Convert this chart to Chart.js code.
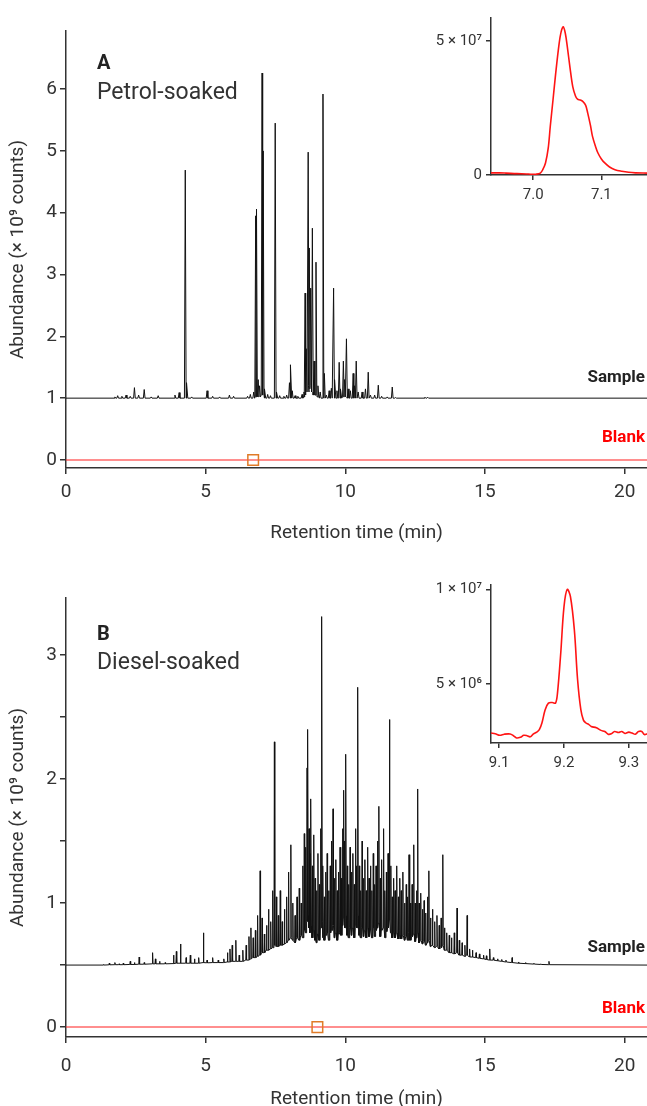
<!DOCTYPE html>
<html>
<head>
<meta charset="utf-8">
<title>GC-MS chromatograms</title>
<script src="https://cdn.jsdelivr.net/npm/chart.js@4.4.1/dist/chart.umd.min.js"></script>
<style>
  html, body { margin: 0; padding: 0; background: #fff; overflow: hidden; }
  body { position: relative; width: 647px; height: 1106px; font-family: Roboto, "Liberation Sans", sans-serif; color: #333; }
  canvas { position: absolute; }
  .note { position: absolute; white-space: nowrap; line-height: 1; }
  .letter { left: 97px; font-size: 20px; font-weight: 700; color: #222; }
  .caption { left: 97px; font-size: 23px; color: #333; }
  .tag { right: 2px; font-size: 17px; font-weight: 700; }
  .sample { color: #222; }
  .blank { color: #ff0000; }
</style>
</head>
<body>
<canvas id="mainA" width="656" height="549" style="left:0;top:0"></canvas>
<canvas id="insetA" width="247" height="215" style="left:400px;top:0"></canvas>
<canvas id="mainB" width="656" height="555" style="left:0;top:560px"></canvas>
<canvas id="insetB" width="247" height="220" style="left:400px;top:560px"></canvas>

<div class="note letter" style="top:52px">A</div>
<div class="note caption" style="top:80px">Petrol-soaked</div>
<div class="note tag sample" style="top:368px">Sample</div>
<div class="note tag blank" style="top:428px">Blank</div>

<div class="note letter" style="top:623px">B</div>
<div class="note caption" style="top:650px">Diesel-soaked</div>
<div class="note tag sample" style="top:938px">Sample</div>
<div class="note tag blank" style="top:999px">Blank</div>

<script>
// ====================================================================
// DATA (abundance in 10^9 counts, time in min)
// ====================================================================

const timeRange = [0, 20.8];
const timeTicks = [0, 5, 10, 15, 20];

// --- A: petrol-soaked sample, drawn on a baseline offset of 1 ---
const petrolBaseline = 1.0;
const petrolPeakTimes = [1.75, 1.85, 2.0, 2.15, 2.3, 2.45, 2.6, 2.8, 3.05, 3.3, 3.9, 4.05, 4.27, 4.33, 4.5,
  5.05, 5.25, 5.5, 5.85, 6.0, 6.5, 6.6, 6.72, 6.79, 6.82, 6.88, 6.93, 7.02, 7.06, 7.12, 7.22, 7.32, 7.49, 7.55,
  7.65, 7.8, 7.9, 8.0, 8.05, 8.1, 8.2, 8.3, 8.45, 8.52, 8.56, 8.6, 8.67, 8.71, 8.76, 8.82, 8.88, 8.95, 9.02,
  9.1, 9.2, 9.25, 9.32, 9.42, 9.5, 9.58, 9.63, 9.7, 9.78, 9.84, 9.93, 9.97, 10.04, 10.1, 10.18, 10.28, 10.33,
  10.39, 10.46, 10.6, 10.72, 10.82, 10.9, 11.05, 11.18, 11.3, 11.5, 11.68, 11.8, 12.85, 12.95];
const petrolPeakTops = [1.02, 1.04, 1.03, 1.05, 1.03, 1.17, 1.05, 1.14, 1.02, 1.04, 1.05, 1.09, 4.69, 1.25, 1.02,
  1.12, 1.03, 1.02, 1.05, 1.03, 1.03, 1.06, 1.1, 3.95, 4.06, 1.3, 1.2, 6.26, 5.0, 1.15, 1.06, 1.04, 5.45, 1.1,
  1.04, 1.03, 1.05, 1.25, 1.54, 1.12, 1.04, 1.03, 1.06, 1.1, 2.7, 1.8, 4.98, 3.43, 2.78, 3.75, 1.6, 3.2, 1.2,
  1.1, 5.92, 1.4, 1.05, 1.12, 1.16, 2.78, 1.3, 1.12, 1.58, 1.15, 1.6, 1.3, 1.96, 1.15, 1.12, 1.4, 1.2,
  1.6, 1.1, 1.1, 1.15, 1.42, 1.05, 1.05, 1.21, 1.03, 1.02, 1.18, 1.01, 1.015, 1.015];
const petrolPeakBases = [1.0, 1.0, 1.0, 1.0, 1.0, 1.0, 1.0, 1.0, 1.0, 1.0, 1.0, 1.0, 1.0, 1.0, 1.0,
  1.0, 1.0, 1.0, 1.0, 1.0, 1.0, 1.0, 1.0, 1.02, 1.02, 1.02, 1.02, 1.05, 1.05, 1.0, 1.0, 1.0, 1.0, 1.0,
  1.0, 1.0, 1.0, 1.0, 1.0, 1.0, 1.0, 1.0, 1.0, 1.02, 1.05, 1.1, 1.1, 1.2, 1.15, 1.1, 1.05, 1.05, 1.02,
  1.0, 1.0, 1.0, 1.0, 1.0, 1.0, 1.0, 1.0, 1.0, 1.0, 1.0, 1.02, 1.02, 1.02, 1.0, 1.0, 1.0, 1.0,
  1.0, 1.0, 1.0, 1.0, 1.0, 1.0, 1.0, 1.0, 1.0, 1.0, 1.0, 1.0, 1.0, 1.0];
const petrolAbundanceTicks = [0, 1, 2, 3, 4, 5, 6];
const petrolAbundanceRange = [-0.13, 6.94];
const petrolMarkerTime = 6.7;

// --- B: diesel-soaked sample, drawn on a baseline offset of 0.5 ---
const dieselBaseline = 0.5;
const dieselPeakTimes = [1.35, 1.55, 1.75, 1.9, 2.05, 2.3, 2.45, 2.62, 2.8, 3.1, 3.2, 3.35, 3.55, 3.85, 3.95,
  4.1, 4.3, 4.45, 4.6, 4.75, 4.92, 5.05, 5.25, 5.45, 5.65, 5.78, 5.87, 5.95, 6.08, 6.2, 6.33, 6.45, 6.55, 6.62,
  6.7, 6.78, 6.86, 6.95, 7.02, 7.1, 7.18, 7.25, 7.33, 7.4, 7.46, 7.53, 7.6, 7.67, 7.74, 7.82, 7.9, 7.97, 8.05,
  8.12, 8.2, 8.27, 8.35, 8.42, 8.48, 8.53, 8.58, 8.63, 8.66, 8.7, 8.74, 8.77, 8.82, 8.87, 8.92, 8.97, 9.02,
  9.07, 9.12, 9.16, 9.2, 9.25, 9.3, 9.35, 9.41, 9.46, 9.51, 9.56, 9.61, 9.66, 9.71, 9.76, 9.81, 9.86, 9.9,
  9.94, 9.98, 10.02, 10.07, 10.12, 10.17, 10.22, 10.27, 10.32, 10.37, 10.41, 10.45, 10.5, 10.55, 10.6, 10.65,
  10.7, 10.75, 10.8, 10.85, 10.9, 10.95, 11.0, 11.05, 11.1, 11.15, 11.2, 11.25, 11.3, 11.37, 11.42, 11.47,
  11.53, 11.58, 11.63, 11.68, 11.73, 11.78, 11.84, 11.9, 11.95, 12.0, 12.06, 12.12, 12.18, 12.23, 12.28,
  12.33, 12.39, 12.45, 12.5, 12.55, 12.59, 12.64, 12.7, 12.76, 12.82, 12.88, 12.94, 12.99, 13.05, 13.12,
  13.2, 13.28, 13.36, 13.43, 13.49, 13.55, 13.63, 13.72, 13.8, 13.9, 14.0, 14.08, 14.18, 14.28, 14.36,
  14.45, 14.55, 14.68, 14.8, 14.95, 15.05, 15.17, 15.3, 15.45, 15.6, 15.75, 15.97, 16.2, 16.45, 16.75,
  17.0, 17.29];
const dieselPeakTops = [0.505, 0.515, 0.52, 0.51, 0.515, 0.53, 0.52, 0.565, 0.52, 0.6, 0.55, 0.53, 0.52, 0.58, 0.61,
  0.67, 0.56, 0.58, 0.55, 0.56, 0.76, 0.54, 0.56, 0.54, 0.55, 0.6, 0.63, 0.66, 0.7, 0.58, 0.62, 0.66, 0.73, 0.8,
  0.72, 0.78, 0.9, 1.26, 0.88, 0.75, 0.82, 0.95, 0.85, 1.1, 2.3, 1.05, 0.9, 1.1, 0.85, 0.95, 1.05, 1.25, 1.47,
  1.0, 0.9, 1.05, 1.12, 1.0, 1.3, 1.56, 1.45, 2.09, 2.4, 1.6, 1.4, 1.84, 1.3, 1.55, 1.2, 1.1, 1.4,
  1.15, 1.6, 3.31, 1.3, 1.05, 1.25, 1.4, 1.1, 1.3, 1.5, 1.76, 1.2, 1.35, 1.1, 1.25, 1.45, 1.2, 1.6,
  1.91, 1.5, 2.2, 1.3, 1.15, 1.45, 1.25, 1.4, 1.15, 1.6, 1.3, 2.74, 1.3, 1.1, 1.5, 1.2,
  1.35, 1.1, 1.45, 1.2, 1.3, 1.1, 1.4, 1.15, 1.3, 1.5, 1.78, 1.2, 1.35, 1.6, 1.1, 1.25,
  1.4, 2.48, 1.3, 1.05, 1.2, 1.1, 1.3, 1.05, 1.2, 1.1, 1.25, 1.0, 1.15, 1.05, 1.39,
  1.0, 1.15, 1.47, 1.0, 1.1, 1.92, 1.0, 1.08, 0.95, 1.02, 0.92, 1.05, 1.26, 0.88, 0.95,
  0.85, 0.9, 0.82, 0.88, 1.39, 0.8, 0.76, 0.74, 0.72, 0.76, 0.96, 0.7, 0.68, 0.66, 0.9,
  0.63, 0.62, 0.6, 0.59, 0.58, 0.575, 0.63, 0.56, 0.55, 0.545, 0.54, 0.56, 0.525, 0.52, 0.515,
  0.51, 0.53];
const dieselPeakBases = [0.5, 0.502, 0.503, 0.503, 0.503, 0.505, 0.505, 0.507, 0.507, 0.51, 0.51, 0.51, 0.51, 0.512, 0.515,
  0.515, 0.515, 0.515, 0.515, 0.515, 0.52, 0.518, 0.52, 0.52, 0.52, 0.525, 0.525, 0.53, 0.53, 0.53, 0.53, 0.54, 0.54, 0.55,
  0.56, 0.56, 0.57, 0.58, 0.6, 0.6, 0.62, 0.62, 0.63, 0.64, 0.66, 0.65, 0.65, 0.66, 0.66, 0.67, 0.68, 0.7, 0.72,
  0.7, 0.68, 0.72, 0.7, 0.74, 0.72, 0.78, 0.76, 0.85, 0.9, 0.8, 0.76, 0.82, 0.72, 0.78, 0.7, 0.68, 0.75,
  0.7, 0.8, 0.85, 0.72, 0.7, 0.74, 0.76, 0.7, 0.76, 0.78, 0.82, 0.72, 0.76, 0.7, 0.75, 0.76, 0.74, 0.82,
  0.88, 0.8, 0.9, 0.74, 0.72, 0.8, 0.74, 0.8, 0.72, 0.82, 0.8, 0.9, 0.74, 0.72, 0.8, 0.73,
  0.78, 0.72, 0.8, 0.73, 0.78, 0.72, 0.8, 0.73, 0.78, 0.8, 0.84, 0.73, 0.78, 0.8, 0.72, 0.77,
  0.8, 0.86, 0.76, 0.72, 0.76, 0.72, 0.76, 0.71, 0.74, 0.71, 0.74, 0.7, 0.73, 0.7, 0.76,
  0.7, 0.73, 0.75, 0.69, 0.72, 0.76, 0.68, 0.7, 0.67, 0.69, 0.66, 0.68, 0.7, 0.65, 0.66,
  0.64, 0.65, 0.63, 0.64, 0.66, 0.62, 0.62, 0.6, 0.6, 0.59, 0.6, 0.58, 0.58, 0.57, 0.58,
  0.565, 0.565, 0.56, 0.555, 0.55, 0.545, 0.54, 0.54, 0.535, 0.53, 0.525, 0.52, 0.515, 0.512, 0.508,
  0.505, 0.503];
const dieselAbundanceTicks = [0, 0.5, 1, 1.5, 2, 2.5, 3];
const dieselAbundanceRange = [-0.08, 3.46];
const dieselMarkerTime = 9.0;

// --- blank run (both panels) ---
const blankTimes = [0, 20.8];
const blankValues = [0, 0];

// --- inset A: zoom on the 7.04 min peak (counts) ---
const insetATimes = [6.938, 6.95, 6.96, 6.976, 6.99, 6.996, 7.004, 7.0104, 7.014, 7.018, 7.022, 7.025, 7.029,
  7.033, 7.038, 7.041, 7.044, 7.047, 7.05, 7.054, 7.058, 7.062, 7.065, 7.069, 7.073, 7.077, 7.08, 7.084,
  7.087, 7.091, 7.095, 7.1, 7.105, 7.112, 7.12, 7.13, 7.14, 7.15, 7.167];
const insetAValues = [0.08e7, 0.08e7, 0.07e7, 0.05e7, 0.04e7, 0.03e7, 0.03e7, 0.07e7, 0.2e7, 0.45e7, 1.0e7,
  1.81e7, 2.8e7, 3.8e7, 4.9e7, 5.35e7, 5.53e7, 5.3e7, 4.79e7, 4.0e7, 3.3e7, 2.95e7, 2.83e7, 2.8e7, 2.74e7,
  2.6e7, 2.31e7, 1.85e7, 1.44e7, 1.1e7, 0.82e7, 0.6e7, 0.45e7, 0.3e7, 0.2e7, 0.14e7, 0.1e7, 0.08e7, 0.07e7];
const insetATimeRange = [6.938, 7.167];
const insetATimeTicks = [7.0, 7.1];
const insetATimeLabels = ['7.0', '7.1'];
const insetAValueRange = [0, 5.86e7];
const insetAValueTicks = [0, 5e7];
const insetAValueLabels = ['0', '5 × 10⁷'];

// --- inset B: zoom on the 9.2 min peak (counts) ---
const insetBTimes = [9.0875, 9.094, 9.101, 9.108, 9.117, 9.122, 9.127, 9.133, 9.138, 9.143, 9.148, 9.153,
  9.158, 9.162, 9.166, 9.171, 9.176, 9.182, 9.187, 9.19, 9.195, 9.2, 9.205, 9.21, 9.216, 9.221, 9.226, 9.23,
  9.234, 9.238, 9.242, 9.25, 9.257, 9.263, 9.268, 9.273, 9.278, 9.284, 9.289, 9.294, 9.3, 9.305, 9.31,
  9.315, 9.32, 9.324, 9.328];
const insetBValues = [2.42e6, 2.38e6, 2.30e6, 2.36e6, 2.37e6, 2.28e6, 2.16e6, 2.2e6, 2.3e6, 2.28e6, 2.22e6,
  2.38e6, 2.47e6, 2.6e6, 2.95e6, 3.65e6, 4.0e6, 4.03e6, 4.0e6, 4.53e6, 6.63e6, 9.08e6, 10.0e6, 9.61e6,
  7.86e6, 5.23e6, 3.65e6, 3.1e6, 2.95e6, 2.88e6, 2.77e6, 2.7e6, 2.56e6, 2.5e6, 2.36e6, 2.38e6, 2.5e6,
  2.45e6, 2.5e6, 2.4e6, 2.47e6, 2.42e6, 2.36e6, 2.5e6, 2.5e6, 2.34e6, 2.38e6];
const insetBTimeRange = [9.0875, 9.328];
const insetBTimeTicks = [9.1, 9.2, 9.3];
const insetBTimeLabels = ['9.1', '9.2', '9.3'];
const insetBValueRange = [1.895e6, 1.023e7];
const insetBValueTicks = [5e6, 1e7];
const insetBValueLabels = ['5 × 10⁶', '1 × 10⁷'];

// ====================================================================
// HELPERS
// ====================================================================

const INK = '#333';
const SAMPLE_COLOR = '#111';
const BLANK_COLOR = 'rgba(255, 40, 40, 0.7)';
const INSET_COLOR = 'rgb(255, 20, 20)';
const MARKER_COLOR = '#e07b28';

Chart.defaults.font.family = 'Roboto, "Liberation Sans", sans-serif';
Chart.defaults.color = INK;

// each peak is a thin spike: base -> top -> base
function buildTrace(times, tops, bases, baseline, halfWidth) {
  const pts = [{ x: timeRange[0], y: baseline }];
  times.forEach((t, i) => {
    pts.push({ x: t - halfWidth, y: bases[i] });
    pts.push({ x: t, y: tops[i] });
    pts.push({ x: t + halfWidth, y: bases[i] });
  });
  pts.push({ x: timeRange[1], y: baseline });
  return pts;
}

function zipPoints(xs, ys) {
  return xs.map((x, i) => ({ x: x, y: ys[i] }));
}

function fixedTicks(values) {
  return scale => { scale.ticks = values.map(v => ({ value: v })); };
}

function axisLine(tickLength) {
  return {
    grid: { drawOnChartArea: false, drawTicks: true, tickLength: tickLength, color: INK, lineWidth: 1.5 },
    border: { display: true, color: INK, width: 1.5 }
  };
}

// ====================================================================
// MAIN CHROMATOGRAM
// ====================================================================

function createMainChart(id, cfg) {
  const canvas = document.getElementById(id);
  const ctx = canvas.getContext('2d');

  return new Chart(ctx, {
    type: 'line',
    data: {
      datasets: [
        {
          label: 'Blank',
          data: zipPoints(blankTimes, blankValues),
          borderColor: BLANK_COLOR,
          borderWidth: 1.5,
          pointRadius: 0,
          order: 3
        },
        {
          label: 'Sample',
          data: cfg.trace,
          borderColor: SAMPLE_COLOR,
          borderWidth: 1,
          pointRadius: 0,
          tension: 0,
          order: 2
        },
        {
          label: 'marker',
          data: [{ x: cfg.markerTime, y: 0 }],
          showLine: false,
          pointStyle: 'rect',
          pointRadius: 7.5,
          pointBorderWidth: 1.5,
          pointBorderColor: MARKER_COLOR,
          pointBackgroundColor: 'rgba(255,255,255,0)',
          order: 1
        }
      ]
    },
    options: {
      responsive: false,
      devicePixelRatio: 1,
      animation: false,
      events: [],
      layout: { padding: { top: cfg.padTop, left: 0, right: 0, bottom: 0 } },
      plugins: { legend: { display: false }, tooltip: { enabled: false } },
      scales: {
        x: {
          type: 'linear',
          min: timeRange[0],
          max: timeRange[1],
          afterBuildTicks: fixedTicks(timeTicks),
          afterFit: scale => { scale.height = cfg.xHeight; },
          ticks: { font: { size: 19 }, color: INK, padding: cfg.xTickPad, maxRotation: 0, autoSkip: false,
                   callback: v => String(v) },
          title: { display: true, text: 'Retention time (min)', font: { size: 19 }, color: INK,
                   padding: { top: 0, bottom: 4 } },
          ...axisLine(6)
        },
        y: {
          type: 'linear',
          min: cfg.yRange[0],
          max: cfg.yRange[1],
          afterBuildTicks: fixedTicks(cfg.yTicks),
          afterFit: scale => { scale.width = 66; },
          ticks: { font: { size: 19 }, color: INK, padding: 3, autoSkip: false,
                   callback: v => Number.isInteger(v) ? String(v) : '' },
          title: { display: true, text: 'Abundance (× 10⁹ counts)', font: { size: 19 }, color: INK,
                   padding: { top: 7, bottom: 0 } },
          ...axisLine(6)
        }
      }
    }
  });
}

// ====================================================================
// INSET (single peak zoom)
// ====================================================================

function createInsetChart(id, cfg) {
  const ctx = document.getElementById(id).getContext('2d');

  return new Chart(ctx, {
    type: 'line',
    data: {
      datasets: [{
        data: zipPoints(cfg.times, cfg.values),
        borderColor: INSET_COLOR,
        borderWidth: 1.6,
        pointRadius: 0,
        tension: 0.35
      }]
    },
    options: {
      responsive: false,
      devicePixelRatio: 1,
      animation: false,
      events: [],
      layout: { padding: { top: cfg.padTop, left: 0, right: 0, bottom: 0 } },
      plugins: { legend: { display: false }, tooltip: { enabled: false } },
      scales: {
        x: {
          type: 'linear',
          min: cfg.xRange[0],
          max: cfg.xRange[1],
          afterBuildTicks: fixedTicks(cfg.xTicks),
          afterFit: scale => { scale.height = cfg.xHeight; },
          ticks: { font: { size: 15 }, color: INK, padding: 6, maxRotation: 0, autoSkip: false,
                   callback: (v, i) => cfg.xLabels[i] },
          ...axisLine(5)
        },
        y: {
          type: 'linear',
          min: cfg.yRange[0],
          max: cfg.yRange[1],
          afterBuildTicks: fixedTicks(cfg.yTicks),
          afterFit: scale => { scale.width = 91; },
          ticks: { font: { size: 15 }, color: INK, padding: 4, autoSkip: false,
                   callback: (v, i) => cfg.yLabels[i] },
          ...axisLine(5)
        }
      }
    }
  });
}

// ====================================================================
// BUILD
// ====================================================================

createMainChart('mainA', {
  trace: buildTrace(petrolPeakTimes, petrolPeakTops, petrolPeakBases, petrolBaseline, 0.03),
  markerTime: petrolMarkerTime,
  yRange: petrolAbundanceRange,
  yTicks: petrolAbundanceTicks,
  padTop: 31,
  xHeight: 81,
  xTickPad: 7
});

createMainChart('mainB', {
  trace: buildTrace(dieselPeakTimes, dieselPeakTops, dieselPeakBases, dieselBaseline, 0.015),
  markerTime: dieselMarkerTime,
  yRange: dieselAbundanceRange,
  yTicks: dieselAbundanceTicks,
  padTop: 38,
  xHeight: 78,
  xTickPad: 12
});

createInsetChart('insetA', {
  times: insetATimes, values: insetAValues,
  xRange: insetATimeRange, xTicks: insetATimeTicks, xLabels: insetATimeLabels,
  yRange: insetAValueRange, yTicks: insetAValueTicks, yLabels: insetAValueLabels,
  padTop: 18, xHeight: 40
});

createInsetChart('insetB', {
  times: insetBTimes, values: insetBValues,
  xRange: insetBTimeRange, xTicks: insetBTimeTicks, xLabels: insetBTimeLabels,
  yRange: insetBValueRange, yTicks: insetBValueTicks, yLabels: insetBValueLabels,
  padTop: 25, xHeight: 37
});
</script>
</body>
</html>
